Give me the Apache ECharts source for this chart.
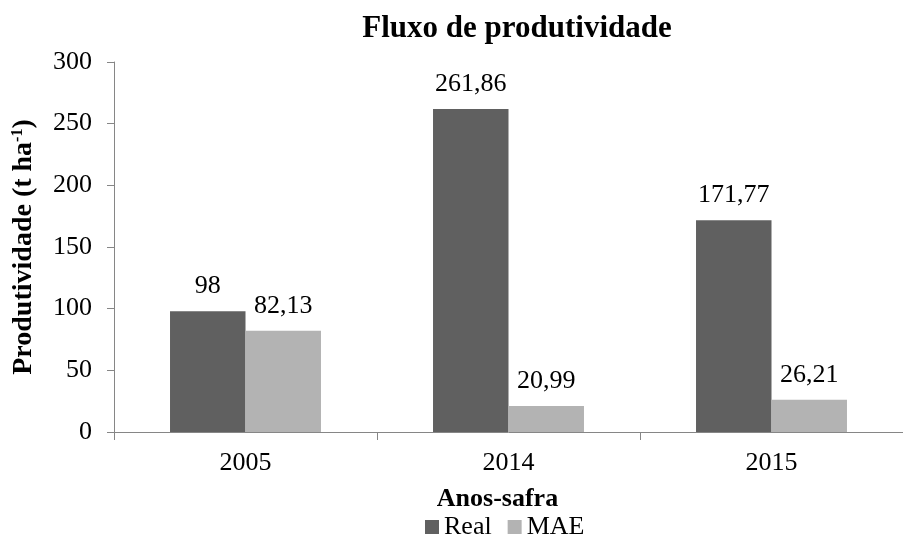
<!DOCTYPE html>
<html>
<head>
<meta charset="utf-8">
<script src="https://cdn.jsdelivr.net/npm/echarts@6/dist/echarts.min.js"></script>
<style>
html,body{margin:0;padding:0;background:#fff;}
#chart{width:903px;height:544px;}
</style>
</head>
<body>
<div id="chart"></div>
<script>
// dados do grafico
const anos = ['2005', '2014', '2015'];
const real = [98, 261.86, 171.77];
const mae = [82.13, 20.99, 26.21];
const yTicks = [0, 50, 100, 150, 200, 250, 300];

const fonte = '"Liberation Serif", "DejaVu Serif", serif';
const fmt = function (p) { return String(p.value).replace('.', ','); };

let chart = echarts.init(document.getElementById('chart'));
let option = {
    backgroundColor: '#fff',
    animation: false,
    title: {
        text: 'Fluxo de produtividade',
        left: 512,
        top: 8,
        textAlign: 'center',
        textStyle: { fontFamily: fonte, fontSize: 31, fontWeight: 'bold', color: '#000' }
    },
    legend: {
        data: ['Real', 'MAE'],
        left: 425,
        top: 514,
        itemWidth: 14,
        itemHeight: 14,
        itemGap: 16,
        icon: 'rect',
        padding: 0,
        textStyle: { fontFamily: fonte, fontSize: 26, color: '#000', padding: [0, 0, 0, 0] }
    },
    grid: { left: 114, right: -6, top: 62, bottom: 112 },
    xAxis: {
        type: 'category',
        data: anos,
        name: 'Anos-safra',
        nameLocation: 'middle',
        nameGap: 54,
        nameTextStyle: { fontFamily: fonte, fontSize: 26, fontWeight: 'bold', color: '#000', padding: [0, 22, 0, 0] },
        axisLine: { lineStyle: { color: '#868686', width: 1 } },
        axisTick: { show: true, length: 8, lineStyle: { color: '#868686' } },
        axisLabel: { fontFamily: fonte, fontSize: 26, color: '#000', margin: 18 }
    },
    yAxis: {
        type: 'value',
        min: yTicks[0],
        max: yTicks[yTicks.length - 1],
        interval: 50,
        name: 'Produtividade (t ha{sup|-1})',
        nameLocation: 'middle',
        nameRotate: 90,
        nameGap: 76,
        nameTextStyle: {
            fontFamily: fonte, fontSize: 28, fontWeight: 'bold', color: '#000',
            padding: [0, 0, 0, 0],
            rich: {
                sup: { fontFamily: fonte, fontSize: 16, fontWeight: 'bold', color: '#000', verticalAlign: 'top', lineHeight: 16 }
            }
        },
        axisLine: { show: true, lineStyle: { color: '#868686', width: 1 } },
        axisTick: { show: true, length: 7, lineStyle: { color: '#868686' } },
        splitLine: { show: false },
        axisLabel: { fontFamily: fonte, fontSize: 26, color: '#000', margin: 22 }
    },
    series: [
        {
            name: 'Real',
            type: 'bar',
            data: real,
            barGap: '0%',
            barCategoryGap: '42.6%',
            itemStyle: { color: '#606060' },
            label: { show: true, position: 'top', distance: 12, formatter: fmt,
                     fontFamily: fonte, fontSize: 26, color: '#000' }
        },
        {
            name: 'MAE',
            type: 'bar',
            data: mae,
            itemStyle: { color: '#b3b3b3' },
            label: { show: true, position: 'top', distance: 12, formatter: fmt,
                     fontFamily: fonte, fontSize: 26, color: '#000' }
        }
    ]
};
chart.setOption(option);
</script>
</body>
</html>
